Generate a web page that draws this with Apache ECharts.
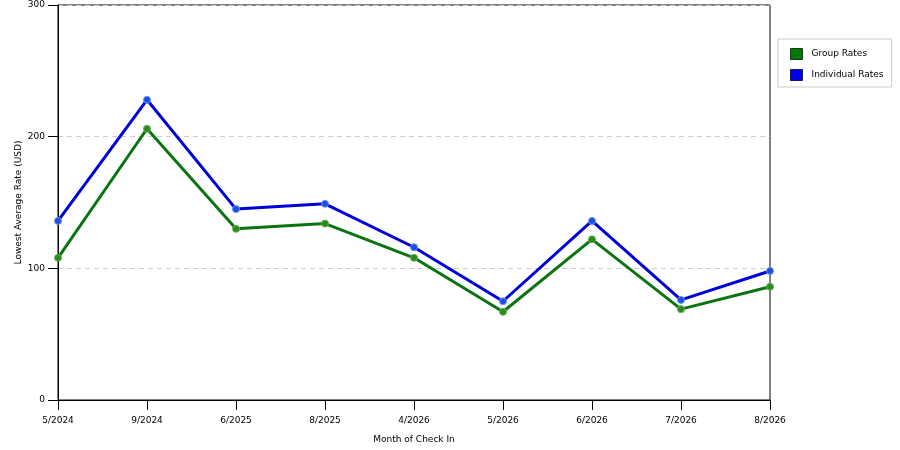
<!DOCTYPE html>
<html>
<head>
<meta charset="utf-8">
<script src="https://cdn.jsdelivr.net/npm/echarts@6/dist/echarts.min.js"></script>
<style>html,body{margin:0;padding:0;background:#fff;}#c{width:900px;height:450px;}</style>
</head>
<body>
<div id="c"></div>
<script>
var categories = ['5/2024','9/2024','6/2025','8/2025','4/2026','5/2026','6/2026','7/2026','8/2026'];
var groupRates = [108, 206, 130, 134, 108, 67, 122, 69, 86];
var individualRates = [136, 228, 145, 149, 116, 75, 136, 76, 98];
var yTicks = [0, 100, 200, 300];

var font = 'DejaVu Sans';
var chart = echarts.init(document.getElementById('c'), null, {renderer: 'canvas'});
chart.setOption({
  animation: false,
  backgroundColor: '#fff',
  textStyle: {fontFamily: font},
  grid: {left: 58, right: 130, top: 5, bottom: 50, show: true, borderColor: '#000', borderWidth: 1, backgroundColor: 'transparent'},
  legend: {
    orient: 'vertical', left: 778, top: 39,
    data: [
      {name: 'Group Rates', itemStyle: {color: '#007a00', borderColor: '#1a3a1a', borderWidth: 1}},
      {name: 'Individual Rates', itemStyle: {color: '#0000f0', borderColor: '#1a1a5a', borderWidth: 1}}
    ],
    icon: 'rect', itemWidth: 12, itemHeight: 11, itemGap: 9,
    padding: [9, 8, 6, 12],
    borderColor: '#ccc', borderWidth: 1,
    textStyle: {fontFamily: font, fontSize: 9, color: '#000', padding: [0, 0, 0, 4]}
  },
  xAxis: {
    type: 'category', data: categories, boundaryGap: false,
    name: 'Month of Check In', nameLocation: 'middle', nameGap: 35, nameMoveOverlap: false,
    nameTextStyle: {fontFamily: font, fontSize: 9, color: '#000'},
    axisLine: {lineStyle: {color: '#000', width: 1}},
    axisTick: {show: true, length: 10, lineStyle: {color: '#000'}, alignWithLabel: true},
    axisLabel: {fontFamily: font, fontSize: 9, color: '#000', margin: 16, interval: 0},
    splitLine: {show: false}
  },
  yAxis: {
    type: 'value', min: 0, max: 300, interval: 100,
    name: 'Lowest Average Rate (USD)', nameLocation: 'middle', nameGap: 35, nameRotate: 90, nameMoveOverlap: false,
    nameTextStyle: {fontFamily: font, fontSize: 9, color: '#000'},
    axisLine: {show: true, lineStyle: {color: '#000', width: 1}},
    axisTick: {show: true, length: 10, lineStyle: {color: '#000'}},
    axisLabel: {fontFamily: font, fontSize: 9, color: '#000', margin: 13,
      formatter: function (v) { return yTicks.indexOf(v) >= 0 ? String(v) : ''; }},
    splitLine: {show: true, lineStyle: {color: '#ccc', type: [5, 4], width: 1}}
  },
  series: [
    {
      name: 'Group Rates', type: 'line', data: groupRates,
      lineStyle: {color: '#0a7510', width: 3},
      symbol: 'circle', symbolSize: 7,
      itemStyle: {color: '#2a8a1a', borderColor: '#6aaa55', borderWidth: 1},
      z: 3
    },
    {
      name: 'Individual Rates', type: 'line', data: individualRates,
      lineStyle: {color: '#0000d8', width: 3},
      symbol: 'circle', symbolSize: 7,
      itemStyle: {color: '#1a4fe0', borderColor: '#6f8ff0', borderWidth: 1},
      z: 4
    }
  ]
});
</script>
</body>
</html>
